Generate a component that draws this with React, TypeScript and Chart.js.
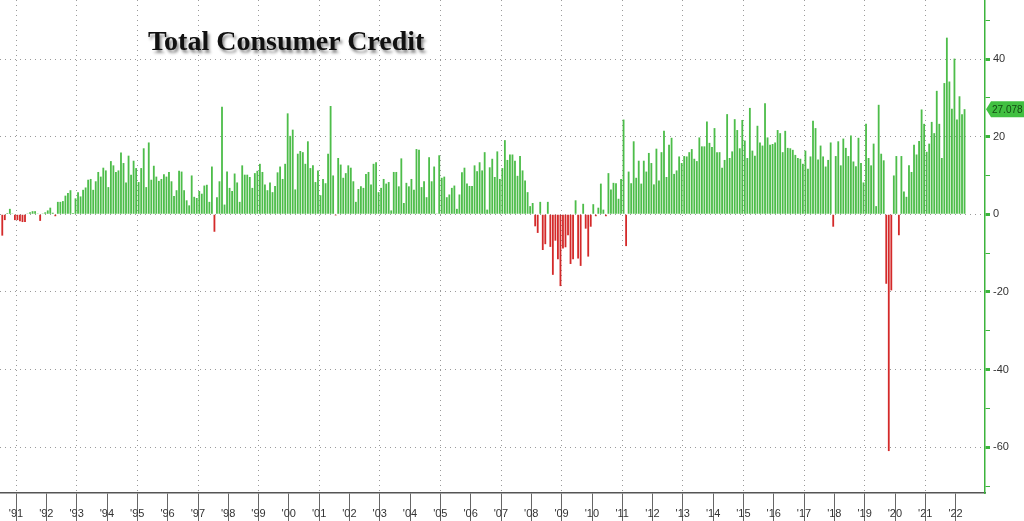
import React, { useEffect, useRef } from "react";
import { Chart, registerables } from "chart.js";

Chart.register(...registerables);

// Monthly change in total consumer credit, $bn, Jan 1991 .. Oct 2022
const values1990s = [
  // 1991
  -5.5, -1.5, 0.3, 1.4, 0.2, -1.5, -1.5, -1.8, -2.0, -2.0, 0.2, 0.5,
  // 1992
  0.8, 0.8, 0.2, -1.7, 0.2, 0.5, 1.0, 1.7, 0.4, -0.5, 3.2, 3.2,
  // 1993
  3.4, 4.8, 5.5, 6.2, 0.3, 4.1, 5.7, 4.6, 6.3, 6.9, 8.9, 9.1,
  // 1994
  6.3, 8.5, 10.9, 9.7, 12.0, 11.3, 7.0, 13.7, 12.6, 10.9, 11.3, 15.9,
  // 1995
  13.2, 8.2, 15.1, 10.2, 13.8, 11.9, 8.3, 11.9, 17.0, 7.0, 18.5, 8.9,
  // 1996
  12.5, 9.7, 8.6, 9.1, 10.3, 9.7, 10.9, 8.5, 4.7, 6.2, 11.2, 11.0,
  // 1997
  6.2, 3.6, 2.3, 10.0, 4.5, 4.2, 6.0, 5.3, 7.4, 7.6, 3.2, 12.3,
  // 1998
  -4.5, 4.4, 8.5, 27.7, 2.5, 11.0, 6.8, 6.0, 10.5, 8.2, 3.2, 12.6,
  // 1999
  10.2, 10.2, 9.6, 6.8, 10.6, 11.2, 13.0, 10.9, 7.7, 6.2, 8.2, 5.7,
];

const values2000s = [
  // 2000
  7.3, 10.8, 12.3, 9.1, 13.0, 26.0, 20.2, 21.8, 6.4, 15.6, 16.3, 16.0,
  // 2001
  13.0, 18.8, 11.9, 12.6, 8.3, 11.3, 4.9, 9.1, 8.0, 15.6, 27.9, 10.0,
  // 2002
  -0.3, 14.5, 12.8, 9.4, 10.6, 12.6, 12.0, 8.5, 3.2, 6.5, 7.2, 6.8,
  // 2003
  10.4, 10.9, 7.7, 13.0, 13.4, 5.7, 6.8, 9.1, 7.9, 8.3, 1.0, 10.9,
  // 2004
  10.9, 7.2, 14.4, 2.9, 8.1, 7.2, 9.1, 6.3, 16.8, 16.6, 7.0, 8.5,
  // 2005
  4.4, 14.7, 8.5, 12.3, 0.2, 15.2, 9.4, 9.7, 4.4, 5.1, 6.8, 7.4,
  // 2006
  1.4, 5.1, 10.8, 12.0, 7.9, 7.3, 7.3, 12.6, 11.1, 13.4, 11.3, 16.0,
  // 2007
  1.2, 12.1, 14.3, 9.6, 16.2, 9.1, 11.9, 19.1, 14.0, 15.4, 15.4, 13.8,
  // 2008
  9.9, 15.0, 11.3, 8.7, 5.7, 2.1, 2.9, -3.1, -4.8, 3.2, -9.2, -7.7,
  // 2009
  3.2, -8.4, -15.6, -6.8, -11.6, -18.5, -8.8, -8.5, -5.4, -12.8, -11.6, 3.6,
];

const values2010s = [
  // 2010
  -11.4, -13.3, 2.7, -3.7, -10.9, -3.2, 2.6, -0.5, 1.7, 7.9, 1.2, -0.5,
  // 2011
  10.6, 6.4, 8.1, 8.0, 4.0, 9.1, 24.4, -8.2, 11.0, 8.0, 18.8, 9.4,
  // 2012
  13.8, 7.9, 13.8, 11.0, 15.8, 13.2, 7.7, 16.9, 8.7, 16.0, 21.5, 9.6,
  // 2013
  17.9, 19.7, 10.4, 11.3, 14.9, 13.2, 15.0, 14.9, 16.0, 16.8, 14.3, 13.7,
  // 2014
  19.8, 17.5, 17.5, 23.9, 18.4, 17.3, 22.2, 16.0, 16.0, 12.0, 14.0, 25.8,
  // 2015
  14.5, 16.2, 24.5, 21.7, 17.0, 24.3, 19.0, 14.5, 27.4, 16.4, 15.1, 22.8,
  // 2016
  18.5, 17.7, 28.6, 19.8, 17.9, 18.1, 18.5, 21.7, 20.9, 16.0, 21.5, 17.1,
  // 2017
  17.0, 16.6, 15.3, 14.5, 14.3, 13.0, 16.4, 11.7, 14.9, 24.1, 22.2, 14.1,
  // 2018
  17.7, 14.9, 12.3, 14.0, 18.5, -3.2, 15.0, 18.8, 12.6, 19.5, 17.1, 15.0,
  // 2019
  20.3, 13.6, 12.4, 19.7, 13.2, 8.2, 23.3, 14.5, 12.6, 18.2, 2.1, 28.2,
];

const values2020s = [
  // 2020
  15.6, 13.9, -17.9, -61.0, -19.6, 10.0, 15.0, -5.4, 15.0, 5.9, 4.5, 12.6,
  // 2021
  10.9, 17.9, 15.4, 18.9, 27.0, 23.3, 16.1, 18.2, 23.8, 20.9, 31.8, 23.3,
  // 2022
  14.5, 33.8, 45.5, 34.2, 27.2, 40.1, 24.4, 30.4, 25.8, 27.078,
];

const yearLabels = [
  "'91", "'92", "'93", "'94", "'95", "'96", "'97", "'98", "'99", "'00",
  "'01", "'02", "'03", "'04", "'05", "'06", "'07", "'08", "'09", "'10",
  "'11", "'12", "'13", "'14", "'15", "'16", "'17", "'18", "'19", "'20",
  "'21", "'22",
];

const yTickValues = [-70, -60, -50, -40, -30, -20, -10, 0, 10, 20, 30, 40, 50];
const yLabelledTicks = [-60, -40, -20, 0, 20, 40];

const title = "Total Consumer Credit";

const allValues = [...values1990s, ...values2000s, ...values2010s, ...values2020s];
const lastValue = allValues[allValues.length - 1];

const GREEN = "#4dbd4a";
const RED = "#d42a2a";
const AXIS_GREEN = "#3cb43c";

const lastValueTag = {
  id: "lastValueTag",
  afterDraw(chart: any) {
    const ctx = chart.ctx;
    const y = chart.scales.y.getPixelForValue(lastValue);
    const x0 = chart.chartArea.right;
    const w = chart.width;
    ctx.save();
    ctx.fillStyle = "#41c041";
    ctx.beginPath();
    ctx.moveTo(x0 + 1, y);
    ctx.lineTo(x0 + 6, y - 8);
    ctx.lineTo(w, y - 8);
    ctx.lineTo(w, y + 8);
    ctx.lineTo(x0 + 6, y + 8);
    ctx.closePath();
    ctx.fill();
    ctx.fillStyle = "#124a12";
    ctx.font = '10px "Liberation Sans", Arial, sans-serif';
    ctx.textBaseline = "middle";
    ctx.textAlign = "left";
    ctx.fillText(lastValue.toFixed(3), x0 + 7, y + 1);
    ctx.restore();
  },
};

export default function App() {
  const canvasRef = useRef<HTMLCanvasElement | null>(null);

  useEffect(() => {
    document.body.style.margin = "0";
    const canvas = canvasRef.current;
    if (!canvas) return;
    const data = allValues.map((v, i) => ({ x: i + 0.5, y: v }));
    const colors = allValues.map((v) => (v >= 0 ? GREEN : RED));

    const chart = new Chart(canvas, {
      type: "bar",
      data: {
        datasets: [
          {
            data,
            backgroundColor: colors,
            borderWidth: 0,
            barPercentage: 0.72,
            categoryPercentage: 1,
          },
        ],
      },
      plugins: [lastValueTag],
      options: {
        animation: false,
        responsive: false,
        maintainAspectRatio: false,
        layout: { padding: 0 },
        plugins: {
          legend: { display: false },
          tooltip: { enabled: false },
          title: { display: false },
        },
        scales: {
          x: {
            type: "linear",
            position: "bottom",
            min: -0.4,
            max: 389.6,
            offset: false,
            afterBuildTicks: (scale: any) => {
              scale.ticks = Array.from({ length: yearLabels.length + 1 }, (_, k) => ({ value: 12 * k }));
            },
            afterFit: (scale: any) => {
              scale.height = 28;
              scale.paddingLeft = 0;
              scale.paddingRight = 0;
            },
            ticks: {
              autoSkip: false,
              maxRotation: 0,
              minRotation: 0,
              padding: -16,
              labelOffset: 15,
              color: "#333",
              font: { family: '"Liberation Sans", Arial, sans-serif', size: 11 },
              callback: (_v: any, index: number) => yearLabels[index] ?? "",
            },
            grid: {
              display: true,
              drawOnChartArea: true,
              drawTicks: true,
              tickLength: 30,
              tickColor: "#666",
              tickWidth: 1,
              lineWidth: 1,
              color: (ctx: any) =>
                ctx.tick && ctx.tick.value % 24 === 12 ? "#9a9a9a" : "rgba(0,0,0,0)",
            },
            border: { display: true, color: "#555", width: 1.5, dash: [1, 4] },
          },
          y: {
            type: "linear",
            position: "right",
            min: -71.8,
            max: 55.2,
            afterBuildTicks: (scale: any) => {
              scale.ticks = yTickValues.map((v) => ({ value: v }));
            },
            afterFit: (scale: any) => {
              scale.width = 39;
              scale.paddingTop = 0;
              scale.paddingBottom = 0;
            },
            ticks: {
              padding: 3,
              color: "#333",
              font: { family: '"Liberation Sans", Arial, sans-serif', size: 11 },
              callback: (v: any) => (yLabelledTicks.includes(v) ? String(v) : ""),
            },
            grid: {
              display: true,
              drawTicks: true,
              tickLength: 5,
              tickColor: AXIS_GREEN,
              tickWidth: (ctx: any) => (ctx.tick && yLabelledTicks.includes(ctx.tick.value) ? 3 : 1),
              lineWidth: 1,
              color: (ctx: any) =>
                ctx.tick && yLabelledTicks.includes(ctx.tick.value) ? "#9a9a9a" : "rgba(0,0,0,0)",
            },
            border: { display: true, color: AXIS_GREEN, width: 1.5, dash: [1, 4] },
          },
        },
      },
    });
    return () => chart.destroy();
  }, []);

  return (
    <div style={{ position: "relative", width: 1024, height: 521, background: "#fff", overflow: "hidden" }}>
      <canvas ref={canvasRef} width={1024} height={521} style={{ display: "block" }} />
      <div
        style={{
          position: "absolute",
          left: 148,
          top: 27,
          fontFamily: '"Liberation Serif", "Times New Roman", serif',
          fontWeight: "bold",
          fontSize: 28,
          lineHeight: "28px",
          color: "#111",
          whiteSpace: "nowrap",
          textShadow: "2px 3px 3px rgba(0,0,0,0.45)",
        }}
      >
        {title}
      </div>
    </div>
  );
}
